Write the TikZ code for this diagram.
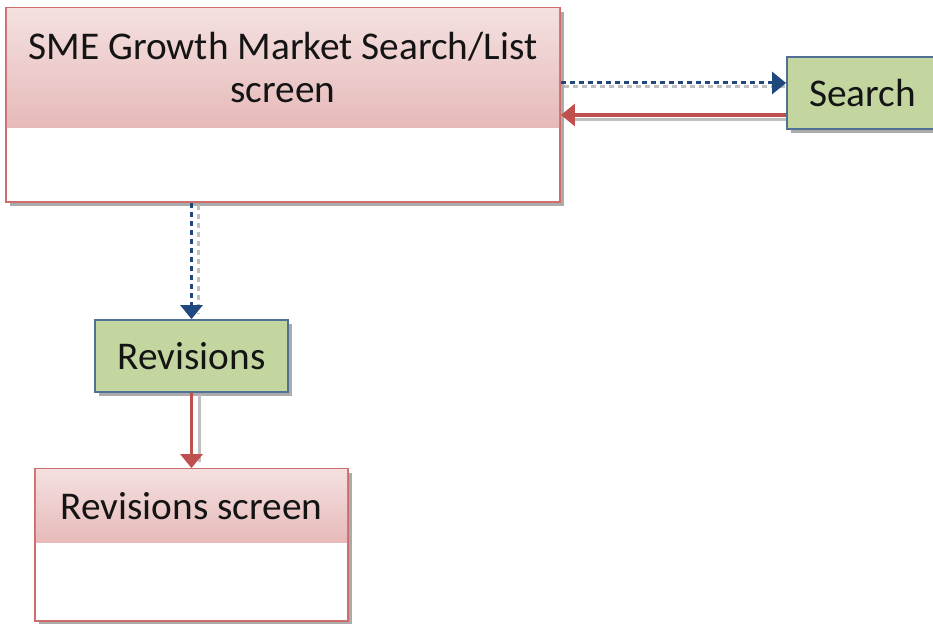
\documentclass[tikz,border=0pt]{standalone}
\usepackage{fontspec}
\setmainfont{Carlito}
\usetikzlibrary{shadows,arrows.meta,calc}
\definecolor{pinkborder}{RGB}{205,110,108}
\definecolor{pinktop}{RGB}{244,224,224}
\definecolor{pinkbot}{RGB}{230,186,185}
\definecolor{greenfill}{RGB}{196,214,160}
\definecolor{blueborder}{RGB}{80,112,150}
\definecolor{bluearrow}{RGB}{31,73,125}
\definecolor{redarrow}{RGB}{192,80,77}
\definecolor{txt}{RGB}{20,20,20}
\tikzset{
  screenbox/.style={draw=pinkborder, line width=1.8pt, fill=white, rectangle,
    drop shadow={shadow xshift=4pt, shadow yshift=-4pt, fill=black!55, opacity=0.6}},
  headband/.style={rectangle, inner sep=0pt, top color=pinktop, bottom color=pinkbot,
    text=txt, align=center, font=\fontsize{39.3}{43}\selectfont},
  actionbox/.style={draw=blueborder, line width=1.8pt, fill=greenfill, rectangle,
    text=txt, font=\fontsize{39.3}{43}\selectfont,
    drop shadow={shadow xshift=4pt, shadow yshift=-4pt, fill=black!55, opacity=0.6}},
  blueflow/.style={draw=bluearrow, line width=3pt, dash pattern=on 5.5pt off 3.5pt,
    -{Triangle[width=22pt,length=14pt]}},
  redflow/.style={draw=redarrow, line width=3pt, -{Triangle[width=22pt,length=14pt]}},
  shadowflowdot/.style={draw=black!25, line width=3pt, dash pattern=on 5.5pt off 3.5pt},
  shadowflow/.style={draw=black!25, line width=3pt},
}
\begin{document}
\begin{tikzpicture}[x=1pt,y=-1pt]
\useasboundingbox (0,0) rectangle (933,623);
% big screen
\node[screenbox, minimum width=554pt, minimum height=194pt] (sme) at (283,105) {};
\node[headband, minimum width=552.2pt, minimum height=118.2pt] (smehead) at (283,68)
  {SME Growth Market Search/List\\screen};
% search
\node[actionbox, minimum width=160pt, minimum height=72pt] (search) at (867,93) {\hspace*{-9pt}Search};
% revisions
\node[actionbox, minimum width=193pt, minimum height=72pt] (rev) at (191.5,356) {Revisions};
% revisions screen
\node[screenbox, minimum width=313pt, minimum height=152pt] (revscr) at (191.5,545) {};
\node[headband, minimum width=311.2pt, minimum height=73.2pt] (revhead) at (191.5,506)
  {Revisions screen};
% arrow shadows
\draw[shadowflowdot] ($(sme.east |- search.west)+(3,-6)$) -- ($(search.west)+(0,-6)$);
\draw[shadowflow] ($(search.west)+(0,26)$) -- ($(sme.east |- search.west)+(14,26)$);
\draw[shadowflowdot] ($(sme.south -| rev.north)+(7,2)$) -- ($(rev.north)+(7,-6)$);
\draw[shadowflow] ($(rev.south)+(8,2)$) -- ($(revscr.north)+(8,-6)$);
% arrows
\draw[blueflow] ($(sme.east |- search.west)+(0,-10)$) -- ($(search.west)+(0,-10)$);
\draw[redflow] ($(search.west)+(0,22)$) -- ($(sme.east |- search.west)+(0,22)$);
\draw[blueflow] (sme.south -| rev.north) -- (rev.north);
\draw[redflow] (rev.south) -- (revscr.north);
\end{tikzpicture}
\end{document}
